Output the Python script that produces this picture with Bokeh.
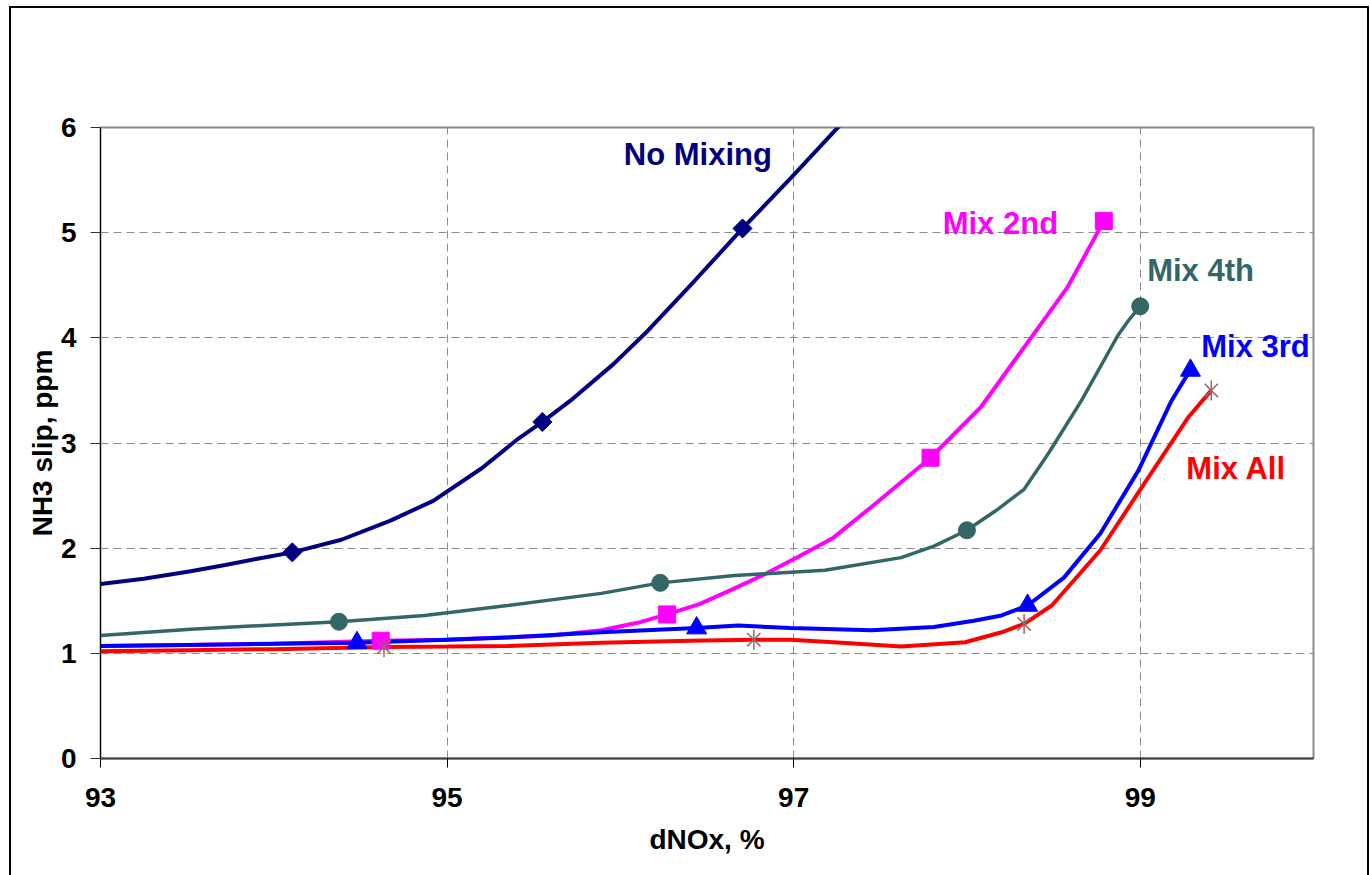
import math

from bokeh.core.properties import value
from bokeh.embed import file_html
from bokeh.models import ColumnDataSource, FixedTicker, InlineStyleSheet, Range1d
from bokeh.plotting import figure
from bokeh.resources import INLINE

# ---------------------------------------------------------------- data
x_ticks = [93, 95, 97, 99]
y_ticks = [0, 1, 2, 3, 4, 5, 6]

# No Mixing
nomix_x = [93.0, 93.25, 93.52, 93.72, 93.905, 94.107, 94.39, 94.67, 94.92, 95.2,
           95.41, 95.55, 95.71, 95.96, 96.16, 96.43, 96.705, 96.99, 97.30]
nomix_y = [1.66, 1.71, 1.78, 1.84, 1.90, 1.96, 2.08, 2.26, 2.45, 2.76,
           3.04, 3.20, 3.40, 3.75, 4.07, 4.545, 5.04, 5.53, 6.08]
nomix_mx = [94.107, 95.55, 96.705]
nomix_my = [1.96, 3.20, 5.04]

# Mix 2nd
mix2_x = [93.0, 93.5, 94.0, 94.617, 95.0, 95.31, 95.6, 95.89, 96.1, 96.27, 96.46,
          96.65, 96.83, 97.03, 97.23, 97.47, 97.79, 98.08, 98.33, 98.58, 98.79]
mix2_y = [1.07, 1.08, 1.09, 1.12, 1.13, 1.15, 1.17, 1.22, 1.29, 1.37, 1.47,
          1.61, 1.75, 1.92, 2.10, 2.42, 2.86, 3.34, 3.91, 4.48, 5.11]
mix2_mx = [94.617, 96.27, 97.79, 98.79]
mix2_my = [1.12, 1.37, 2.86, 5.11]

# Mix 4th
mix4_x = [93.0, 93.52, 94.0, 94.376, 94.87, 95.35, 95.89, 96.23, 96.66, 97.18,
          97.62, 97.81, 98.0, 98.17, 98.33, 98.47, 98.66, 98.87, 98.93, 99.0]
mix4_y = [1.17, 1.23, 1.27, 1.30, 1.36, 1.455, 1.57, 1.67, 1.74, 1.79,
          1.91, 2.02, 2.17, 2.36, 2.56, 2.90, 3.40, 4.02, 4.16, 4.30]
mix4_mx = [94.376, 96.23, 98.0, 99.0]
mix4_my = [1.30, 1.67, 2.17, 4.30]

# Mix 3rd
mix3_x = [93.0, 93.5, 94.0, 94.48, 95.0, 95.35, 95.89, 96.44, 96.68, 96.98,
          97.45, 97.81, 98.04, 98.2, 98.35, 98.56, 98.77, 98.99, 99.18, 99.25, 99.29]
mix3_y = [1.07, 1.08, 1.09, 1.10, 1.13, 1.15, 1.20, 1.24, 1.265, 1.24,
          1.22, 1.25, 1.31, 1.36, 1.455, 1.72, 2.14, 2.74, 3.40, 3.59, 3.69]
mix3_mx = [94.48, 96.44, 98.35, 99.29]
mix3_my = [1.10, 1.24, 1.455, 3.69]

# Mix All
mixall_x = [93.0, 93.5, 94.0, 94.636, 95.0, 95.35, 95.89, 96.4, 96.77, 96.98,
            97.23, 97.62, 97.99, 98.2, 98.33, 98.49, 98.77, 99.01, 99.28, 99.41]
mixall_y = [1.02, 1.03, 1.04, 1.06, 1.065, 1.07, 1.10, 1.12, 1.13, 1.13,
            1.105, 1.065, 1.105, 1.20, 1.28, 1.455, 1.98, 2.58, 3.25, 3.50]
mixall_mx = [94.636, 96.77, 98.33, 99.41]
mixall_my = [1.06, 1.13, 1.28, 3.50]

series_names = ["No Mixing", "Mix 2nd", "Mix 4th", "Mix 3rd", "Mix All"]

# ---------------------------------------------------------------- styles
FONT = "Liberation Sans"
NAVY = "#000080"
MAGENTA = "#FF00FF"
TEAL = "#336666"
BLUE = "#0000FF"
RED = "#FF0000"
STAR = "#996666"

# where each series name sits (left edge, baseline), data units
name_x = [96.02, 97.86, 99.04, 99.352, 99.266]
name_y = [5.74, 5.09, 4.645, 3.916, 2.76]
name_colors = [NAVY, MAGENTA, TEAL, BLUE, RED]

# thin black frame around the whole chart area
chart_border = InlineStyleSheet(css="""
:host { position: relative; }
:host::after {
  content: "";
  position: absolute;
  left: 9px; top: 6px; right: 1px; bottom: -12px;
  border: 2px solid #000;
  pointer-events: none;
  z-index: 10;
}
""")

p = figure(
    width=1370, height=875,
    output_backend="svg", toolbar_location=None,
    x_range=Range1d(93, 100), y_range=Range1d(0, 6),
    min_border_left=100, min_border_right=57,
    min_border_top=127, min_border_bottom=117,
    background_fill_color="white", border_fill_color="white",
    stylesheets=[chart_border],
)

p.outline_line_color = "#8a8a8a"
p.outline_line_width = 2

# axes
for ax in (p.xaxis, p.yaxis):
    ax.major_label_text_font = FONT
    ax.major_label_text_font_style = "bold"
    ax.major_label_text_font_size = "28px"
    ax.major_label_text_color = "black"
    ax.axis_label_text_font = FONT
    ax.axis_label_text_font_style = "bold"
    ax.axis_label_text_font_size = "28px"
    ax.axis_label_text_color = "black"
    ax.major_tick_in = 0
    ax.minor_tick_line_color = None

p.xaxis.ticker = FixedTicker(ticks=x_ticks)
p.yaxis.ticker = FixedTicker(ticks=y_ticks)
p.xaxis.axis_label = "dNOx, %"
p.yaxis.axis_label = "NH3 slip, ppm"

p.xaxis.axis_line_color = "#404040"
p.xaxis.axis_line_width = 2
p.xaxis.major_tick_line_color = "black"
p.xaxis.major_tick_out = 9
p.xaxis.major_label_standoff = 20
p.xaxis.axis_label_standoff = 14

p.yaxis.axis_line_color = "black"
p.yaxis.axis_line_width = 1
p.yaxis.major_tick_line_color = "#333333"
p.yaxis.major_tick_out = 10
p.yaxis.major_label_standoff = 14
p.yaxis.axis_label_standoff = 0

# gridlines
p.xgrid.ticker = FixedTicker(ticks=x_ticks[1:])
p.ygrid.ticker = FixedTicker(ticks=y_ticks[1:-1])
for g in (p.xgrid, p.ygrid):
    g.grid_line_color = "#8c8c8c"
    g.grid_line_width = 1
    g.grid_line_dash = "8 5"

# series lines
p.line(nomix_x, nomix_y, line_color=NAVY, line_width=4)
p.line(mix2_x, mix2_y, line_color=MAGENTA, line_width=4)
p.line(mix4_x, mix4_y, line_color=TEAL, line_width=3.5)
p.line(mix3_x, mix3_y, line_color=BLUE, line_width=4)
p.line(mixall_x, mixall_y, line_color=RED, line_width=4)

# series markers
p.scatter(nomix_mx, nomix_my, marker="square", angle=math.pi / 4, size=13.5,
          fill_color=NAVY, line_color=NAVY)
p.scatter(mix2_mx, mix2_my, marker="square", size=17,
          fill_color=MAGENTA, line_color=MAGENTA)
p.scatter(mix4_mx, mix4_my, marker="circle", size=17,
          fill_color=TEAL, line_color=TEAL)
p.scatter(mix3_mx, mix3_my, marker="triangle", size=20,
          fill_color=BLUE, line_color=BLUE)
p.scatter(mixall_mx, mixall_my, marker="x", size=19,
          line_color=STAR, line_width=1.5)
p.scatter(mixall_mx, mixall_my, marker="dash", angle=math.pi / 2, size=20,
          line_color=STAR, line_width=1.5)

# series names
names = ColumnDataSource(data=dict(x=name_x, y=name_y, text=series_names, color=name_colors))
p.text(x="x", y="y", text="text", source=names, text_color="color",
       text_font=value(FONT), text_font_style="bold", text_font_size="31px",
       text_align="left", text_baseline="alphabetic")

open("out.html", "w").write(file_html(p, INLINE))
